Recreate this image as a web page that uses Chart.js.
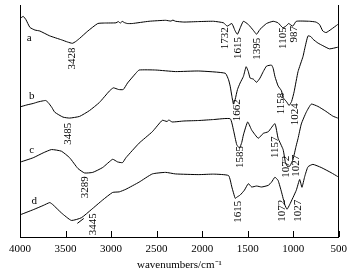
<!DOCTYPE html>
<html>
<head>
<meta charset="utf-8">
<script src="https://cdn.jsdelivr.net/npm/chart.js@4.4.1/dist/chart.umd.min.js"></script>
<style>
  html, body { margin: 0; padding: 0; background: #fff; }
  #wrap { width: 353px; height: 280px; }
</style>
</head>
<body>
<div id="wrap"><canvas id="ftir" width="353" height="280"></canvas></div>
<script>
// wavenumbers (cm-1) and transmittance (arbitrary units, curves offset)
var aWn  = [3992, 3964, 3935, 3891, 3836, 3782, 3673, 3545, 3477, 3425, 3389, 3346, 3255, 3146, 3073, 2946, 2921, 2899, 2877, 2855, 2822, 2768, 2583, 2401, 2343, 2321, 2292, 2201, 2037, 1874, 1765, 1725, 1674, 1637, 1612, 1580, 1547, 1493, 1438, 1402, 1365, 1293, 1220, 1166, 1115, 1080, 1050, 1005, 966, 820, 751, 711, 675, 639, 584, 511];
var aVal = [224.7, 226.3, 223, 215, 212.3, 211.3, 206.3, 202.3, 200, 198.7, 200.5, 203.7, 211.3, 219, 219.5, 219.7, 221, 219.5, 221.2, 220, 219, 219, 221.3, 222.3, 221.5, 222.5, 221.3, 220.5, 221, 221.3, 219.7, 216.3, 219, 211.3, 208, 215, 221.3, 218, 212, 208, 213, 219, 221.3, 219.7, 214.7, 216.3, 219, 216.3, 221.3, 221.3, 220.5, 218, 211.3, 209.7, 213, 218];

var bWn  = [3992, 3924, 3855, 3804, 3746, 3717, 3691, 3651, 3618, 3528, 3455, 3346, 3237, 3128, 3019, 2975, 2917, 2866, 2819, 2728, 2692, 2510, 2292, 2037, 1746, 1710, 1692, 1674, 1656, 1637, 1612, 1583, 1547, 1517, 1493, 1473, 1438, 1402, 1365, 1329, 1293, 1238, 1220, 1201, 1166, 1129, 1111, 1075, 1045, 1018, 990, 947, 893, 874, 838, 805, 784, 729, 675, 602, 511];
var bVal = [133.7, 135.5, 137, 138.5, 139.7, 140, 138, 133, 128, 123, 122, 123.7, 129.7, 138, 149.7, 153, 151.3, 151.3, 158, 168, 171.3, 171.3, 169.7, 170.3, 168, 161.3, 154.7, 144.7, 136.3, 141.3, 151.3, 158, 164.7, 174.7, 169.7, 163, 162, 158.7, 163, 169.7, 175.3, 176.3, 173, 164.7, 155, 150, 143, 139, 135, 139, 149, 169.7, 185, 193, 206.3, 205.5, 203, 199, 196.3, 193, 194.7];

var cWn  = [3992, 3855, 3746, 3654, 3545, 3455, 3364, 3291, 3201, 3092, 2983, 2928, 2874, 2837, 2692, 2547, 2438, 2386, 2365, 2329, 2201, 2037, 1874, 1692, 1656, 1620, 1590, 1565, 1547, 1500, 1456, 1384, 1329, 1274, 1201, 1166, 1111, 1085, 1060, 1035, 1002, 969, 947, 911, 857, 802, 729, 642, 565, 511];
var cVal = [77, 81.3, 86.3, 89.7, 88, 81.3, 70.3, 65.7, 66.3, 71.3, 79.7, 77, 76.3, 81.3, 96.3, 108, 119.7, 118.5, 120, 118, 119, 119.5, 120.5, 121.3, 109.7, 94.7, 91.3, 97, 104.7, 118, 109.7, 101.3, 106.3, 108, 116.3, 101.3, 89.7, 76.3, 72, 73, 79.7, 93, 101, 116, 128, 136.3, 134, 129, 124, 122];

var dWn  = [3992, 3855, 3746, 3673, 3637, 3545, 3436, 3327, 3218, 3092, 2983, 2910, 2837, 2692, 2547, 2401, 2292, 2037, 1874, 1710, 1674, 1637, 1617, 1583, 1536, 1493, 1456, 1402, 1347, 1274, 1238, 1201, 1166, 1129, 1092, 1068, 1040, 966, 929, 904, 874, 838, 784, 693, 584, 511];
var dVal = [23, 28, 32.3, 35.3, 33, 24.7, 17, 19.7, 28, 38, 45.7, 46.3, 49, 56.3, 64.7, 66.3, 64.7, 64, 64.5, 63, 51.3, 39.7, 41, 43, 48, 54.7, 51.3, 52.3, 51.3, 53, 56.3, 61.3, 58, 46.3, 33, 28.5, 33, 48, 59, 51, 62, 72, 74.5, 71.3, 66, 62];

var xTicks = [4000, 3500, 3000, 2500, 2000, 1500, 1000, 500];

// curve names: [text, wavenumber, value]
var curveNames = [["a", 3899, 203.7], ["b", 3872, 145], ["c", 3872, 89], ["d", 3844, 37]];

// peak labels (vertical text): [text, wavenumber, value]
var peakLabels = [
  ["3428", 3425, 183], ["1732", 1746, 204], ["1615", 1609, 194], ["1395", 1391, 193], ["1105", 1111, 204], ["987", 991, 208],
  ["3485", 3473, 106], ["1662", 1620, 130], ["1158", 1129, 137], ["1024", 983, 126],
  ["3289", 3280, 51], ["1585", 1583, 82], ["1157", 1195, 92], ["1072", 1075, 72], ["1027", 970, 73],
  ["3445", 3200, 13], ["1615", 1609, 26], ["1072", 1118, 27], ["1027", 950, 27]
];

function pts(wn, val) {
    var out = [];
    for (var i = 0; i < wn.length; i++) {
        out.push({x: wn[i], y: val[i]});
    }
    return out;
}

function curve(wn, val) {
    return {
        data: pts(wn, val),
        borderColor: "#000",
        borderWidth: 1,
        pointRadius: 0,
        tension: 0.15,
        fill: false
    };
}

var serif = "'Liberation Serif', 'Times New Roman', serif";

var textPlugin = {
    id: "ftirText",
    afterDatasetsDraw: function (chart) {
        var ctx = chart.ctx;
        var xs = chart.scales.x;
        var ys = chart.scales.y;
        var area = chart.chartArea;

        // inward tick marks on the bottom axis
        ctx.save();
        ctx.strokeStyle = "#000";
        ctx.lineWidth = 1;
        ctx.beginPath();
        xTicks.forEach(function (t) {
            var px = Math.round(xs.getPixelForValue(t)) + 0.5;
            ctx.moveTo(px, area.bottom);
            ctx.lineTo(px, area.bottom - 6);
        });
        ctx.stroke();

        ctx.fillStyle = "#000";
        ctx.font = "11px " + serif;
        ctx.textAlign = "center";
        ctx.textBaseline = "middle";
        curveNames.forEach(function (n) {
            ctx.fillText(n[0], xs.getPixelForValue(n[1]), ys.getPixelForValue(n[2]));
        });

        peakLabels.forEach(function (p) {
            ctx.save();
            ctx.translate(xs.getPixelForValue(p[1]), ys.getPixelForValue(p[2]));
            ctx.rotate(-Math.PI / 2);
            ctx.fillText(p[0], 0, 0);
            ctx.restore();
        });

        // leader line for 3445
        ctx.beginPath();
        ctx.moveTo(xs.getPixelForValue(3370), ys.getPixelForValue(14));
        ctx.lineTo(xs.getPixelForValue(3300), ys.getPixelForValue(19));
        ctx.stroke();
        ctx.restore();
    }
};

new Chart(document.getElementById("ftir"), {
    type: "line",
    data: {
        datasets: [curve(aWn, aVal), curve(bWn, bVal), curve(cWn, cVal), curve(dWn, dVal)]
    },
    options: {
        responsive: false,
        animation: false,
        layout: { padding: { left: 20, right: 12, top: 5, bottom: 12.3 } },
        plugins: {
            legend: { display: false },
            tooltip: { enabled: false }
        },
        scales: {
            x: {
                type: "linear",
                reverse: true,
                min: 500,
                max: 4000,
                afterBuildTicks: function (axis) {
                    axis.ticks = xTicks.map(function (v) { return {value: v}; });
                },
                ticks: {
                    color: "#000",
                    padding: 6,
                    maxRotation: 0,
                    autoSkip: false,
                    font: { family: serif, size: 11 },
                    callback: function (value) { return String(value); }
                },
                grid: { display: false, drawTicks: false },
                border: { display: true, color: "#000", width: 1 },
                title: {
                    display: true,
                    text: "wavenumbers/cm\u207B\u00B9",
                    color: "#000",
                    padding: { top: 0, bottom: 0 },
                    font: { family: serif, size: 11, lineHeight: 0.5 }
                }
            },
            y: {
                min: 0,
                max: 238,
                ticks: { display: false },
                grid: { display: false, drawTicks: false },
                border: { display: true, color: "#000", width: 1 }
            },
            y2: {
                position: "right",
                min: 0,
                max: 238,
                ticks: { display: false },
                grid: { display: false, drawTicks: false },
                border: { display: true, color: "#000", width: 1 }
            }
        }
    },
    plugins: [textPlugin]
});
</script>
</body>
</html>
